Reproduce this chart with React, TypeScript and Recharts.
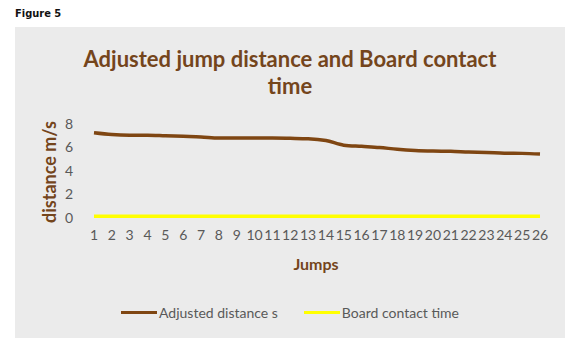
import { LineChart, Line, XAxis, YAxis } from 'recharts'

const jumps = ['1','2','3','4','5','6','7','8','9','10','11','12','13','14','15','16','17','18','19','20','21','22','23','24','25','26']
const adjustedDistance = [7.25, 7.1, 7.05, 7.05, 7.0, 6.95, 6.9, 6.8, 6.8, 6.8, 6.8, 6.78, 6.75, 6.6, 6.2, 6.1, 6.0, 5.85, 5.75, 5.7, 5.68, 5.62, 5.58, 5.52, 5.5, 5.45]
const boardContact = [0.15, 0.15, 0.15, 0.15, 0.15, 0.15, 0.15, 0.15, 0.15, 0.15, 0.15, 0.15, 0.15, 0.15, 0.15, 0.15, 0.15, 0.15, 0.15, 0.15, 0.15, 0.15, 0.15, 0.15, 0.15, 0.15]
const yTicks = [0, 2, 4, 6, 8]

const data = jumps.map((j, i) => ({ jump: j, adj: adjustedDistance[i], board: boardContact[i] }))

const BROWN = '#7f4612'
const TITLE = '#74451c'
const GREY = '#595959'
const FONT = 'Lato, "Open Sans", sans-serif'

const legendItems = [
  { label: 'Adjusted distance s', color: BROWN },
  { label: 'Board contact time', color: '#ffff00' },
]

export default function App() {
  return (
    <div style={{ position: 'fixed', left: 0, top: 0, width: 584, height: 356, background: '#fff' }}>
      <div style={{ position: 'absolute', left: 15, top: 7, fontFamily: '"Liberation Sans Narrow", "DejaVu Sans Condensed", sans-serif', fontWeight: 700, fontSize: 11, color: '#111' }}>
        Figure 5
      </div>
      <div style={{ position: 'absolute', left: 15, top: 27, width: 550, height: 311, background: '#ebebeb' }}>
        <div style={{ position: 'absolute', left: 0, top: 18, width: 550, textAlign: 'center', fontFamily: FONT, fontWeight: 700, fontSize: 22, lineHeight: '27px', color: TITLE }}>
          Adjusted jump distance and Board contact<br />time
        </div>
        <div style={{ position: 'absolute', left: 34, top: 145, width: 0, height: 0 }}>
          <div style={{ position: 'absolute', transform: 'translate(-50%, -50%) rotate(-90deg)', whiteSpace: 'nowrap', fontFamily: FONT, fontWeight: 700, fontSize: 18, color: TITLE }}>
            distance m/s
          </div>
        </div>
        <div style={{ position: 'absolute', left: 0, top: 227, width: 550, textAlign: 'center', paddingLeft: 52, boxSizing: 'border-box', fontFamily: FONT, fontWeight: 700, fontSize: 16, color: TITLE }}>
          Jumps
        </div>
        <div style={{ position: 'absolute', left: 0, top: 277, width: 550, display: 'flex', justifyContent: 'center', gap: 26, fontFamily: FONT, fontSize: 14, color: GREY }}>
          {legendItems.map(it => (
            <div key={it.label} style={{ display: 'flex', alignItems: 'center' }}>
              <span style={{ display: 'inline-block', width: 36, height: 3, background: it.color, marginRight: 2 }} />
              {it.label}
            </div>
          ))}
        </div>
        <LineChart width={550} height={311} data={data} margin={{ top: 97, right: 25, bottom: 90, left: 0 }}>
          <XAxis dataKey="jump" axisLine={false} tickLine={false} tickSize={0} tickMargin={12} interval={0} height={30}
            tick={{ fontSize: 14, fill: GREY, fontFamily: FONT }} />
          <YAxis domain={[0, 8]} ticks={yTicks} width={79} axisLine={false} tickLine={false} tickSize={0} tickMargin={21}
            tick={{ fontSize: 14, fill: GREY, fontFamily: FONT }} />
          <Line dataKey="adj" stroke={BROWN} strokeWidth={3.5} dot={false} type="monotone" isAnimationActive={false} />
          <Line dataKey="board" stroke="#ffff00" strokeWidth={3.5} dot={false} isAnimationActive={false} />
        </LineChart>
      </div>
    </div>
  )
}
